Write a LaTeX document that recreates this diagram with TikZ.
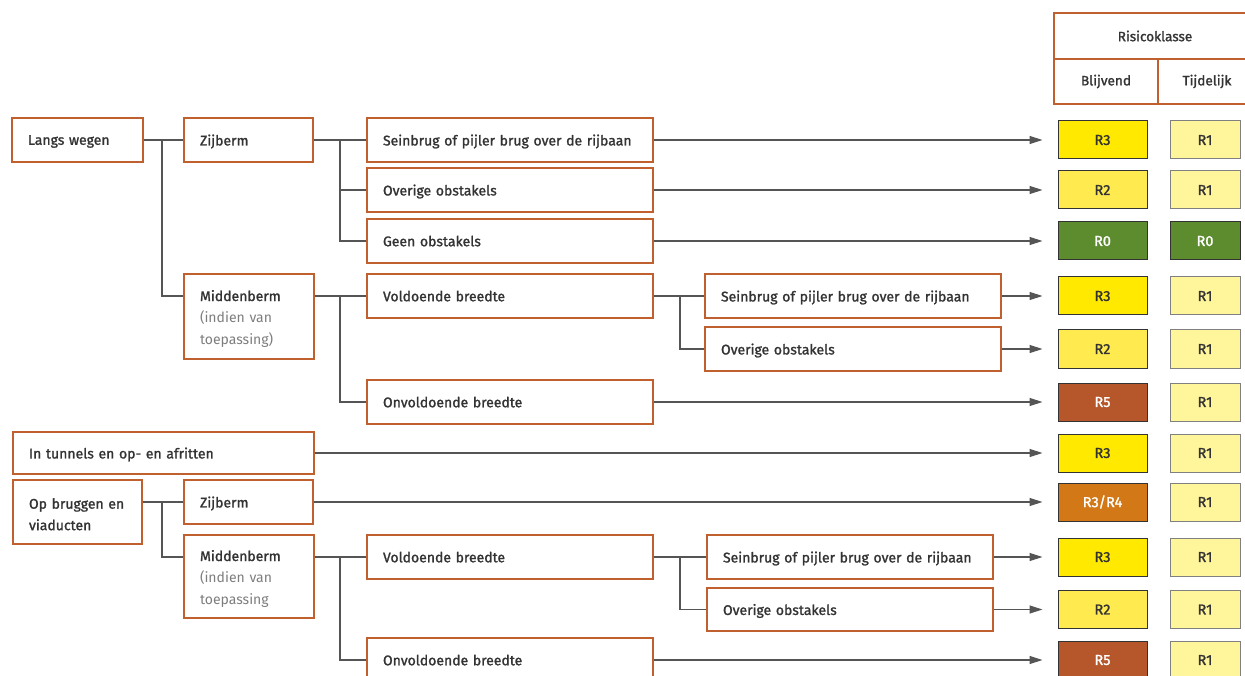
\documentclass[tikz,border=0pt]{standalone}
\usepackage{fontspec}
\setmainfont{Fira Sans}
\newfontfamily\labfont{Fira Sans}[FakeBold=1.4]
\newfontfamily\subfont{Fira Sans}
\usetikzlibrary{arrows.meta,calc}
\definecolor{frame}{RGB}{193,96,47}
\definecolor{ink}{RGB}{51,51,51}
\definecolor{soft}{RGB}{125,125,125}
\definecolor{wire}{RGB}{85,85,85}
\definecolor{rthree}{RGB}{255,233,0}
\definecolor{rtwo}{RGB}{255,234,80}
\definecolor{rone}{RGB}{255,245,155}
\definecolor{rzero}{RGB}{92,140,46}
\definecolor{rfive}{RGB}{181,87,42}
\definecolor{rfour}{RGB}{210,120,22}
\newcommand\subtxt[1]{{\subfont\color{soft}#1}}
\newcommand\topstrut{\rule{0pt}{15pt}}
\tikzset{
  multibox/.style={draw=frame, line width=1.5pt, rectangle, inner xsep=16pt, inner ysep=0pt,
    align=left, text=ink, minimum height=44pt,
    font=\labfont\fontsize{14}{21.5}\selectfont},
  box/.style={multibox, text depth=0pt},
  head/.style={draw=frame, line width=1.5pt, rectangle, inner sep=0pt, text=ink,
    font=\labfont\fontsize{13.6}{15}\selectfont},
  riskbox/.style={draw=ink, line width=1pt, rectangle, inner sep=0pt,
    minimum width=89pt, minimum height=38pt, text=ink,
    font=\labfont\fontsize{14.5}{15}\selectfont},
  tempbox/.style={riskbox, draw=gray, fill=rone, minimum width=70pt},
  wirepath/.style={draw=wire, line width=1.2pt},
  flow/.style={draw=wire, line width=1.2pt, -{Triangle[length=13pt,width=8pt]}, shorten >=15pt}
}
\begin{document}
\begin{tikzpicture}[x=1pt,y=-1pt]
\useasboundingbox (0,0) rectangle (1245,676);
\clip (0,0) rectangle (1245,676);

% header of the risk class columns
\node[head, minimum width=202pt, minimum height=46pt] (hrisk) at (1155,36) {Risicoklasse};
\node[head, minimum width=104pt, minimum height=45pt] (hperm) at (1106,81.5) {Blijvend};
\node[head, minimum width=98pt, minimum height=45pt] (htemp) at (1207,81.5) {Tijdelijk};

% decision boxes: along roads
\node[box, text width=99pt] (lw) at (77.5,140) {Langs wegen};
\node[box, text width=97pt] (zb1) at (248.5,140) {Zijberm};
\node[box, text width=254pt] (s1) at (510,140) {Seinbrug of pijler brug over de rijbaan};
\node[box, text width=254pt] (o1) at (510,190) {Overige obstakels};
\node[box, text width=254pt] (g1) at (510,241) {Geen obstakels};
\node[multibox, text width=98pt, minimum height=85pt] (mb1) at (249,316.5)
  {\topstrut Middenberm\\\subtxt{(indien van}\\\subtxt{toepassing)}};
\node[box, text width=254pt] (v1) at (510,296) {Voldoende breedte};
\node[box, text width=254pt] (on1) at (510,402) {Onvoldoende breedte};
\node[box, text width=264pt] (s2) at (853,296) {Seinbrug of pijler brug over de rijbaan};
\node[box, text width=264pt] (o2) at (853,349) {Overige obstakels};

% tunnels, bridges and viaducts
\node[box, text width=269pt, minimum height=42pt] (tun) at (163.5,453) {In tunnels en op- en afritten};
\node[multibox, text width=97pt, minimum height=64pt] (ob) at (77.5,512) {\topstrut Op bruggen en\\viaducten};
\node[box, text width=97pt] (zb2) at (248.5,502) {Zijberm};
\node[multibox, text width=98pt, minimum height=83pt] (mb2) at (249,576.5)
  {\topstrut Middenberm\\\subtxt{(indien van}\\\subtxt{toepassing}};
\node[box, text width=254pt] (v2) at (510,557) {Voldoende breedte};
\node[box, text width=254pt] (on2) at (510,660) {Onvoldoende breedte};
\node[box, text width=254pt] (s3) at (850,557) {Seinbrug of pijler brug over de rijbaan};
\node[box, text width=254pt, minimum height=43pt] (o3) at (850,609.5) {Overige obstakels};

% permanent risk classes
\node[riskbox, fill=rthree] (r1) at (1102.5,140) {R3};
\node[riskbox, fill=rtwo] (r2) at (1102.5,190) {R2};
\node[riskbox, fill=rzero, text=white] (r3) at (1102.5,241) {R0};
\node[riskbox, fill=rthree] (r4) at (1102.5,296) {R3};
\node[riskbox, fill=rtwo] (r5) at (1102.5,349) {R2};
\node[riskbox, fill=rfive, text=white] (r6) at (1102.5,402) {R5};
\node[riskbox, fill=rthree] (r7) at (1102.5,453) {R3};
\node[riskbox, fill=rfour, text=white] (r8) at (1102.5,502) {R3/R4};
\node[riskbox, fill=rthree] (r9) at (1102.5,557) {R3};
\node[riskbox, fill=rtwo] (r10) at (1102.5,609.5) {R2};
\node[riskbox, fill=rfive, text=white] (r11) at (1102.5,660) {R5};

% temporary risk classes
\node[tempbox] (t1) at (1205,140) {R1};
\node[tempbox] (t2) at (1205,190) {R1};
\node[tempbox, fill=rzero, draw=ink, text=white] (t3) at (1205,241) {R0};
\node[tempbox] (t4) at (1205,296) {R1};
\node[tempbox] (t5) at (1205,349) {R1};
\node[tempbox] (t6) at (1205,402) {R1};
\node[tempbox] (t7) at (1205,453) {R1};
\node[tempbox] (t8) at (1205,502) {R1};
\node[tempbox] (t9) at (1205,557) {R1};
\node[tempbox] (t10) at (1205,609.5) {R1};
\node[tempbox] (t11) at (1205,660) {R1};

% branch points
\coordinate (ja) at (162,140);
\coordinate (jb) at (340,140);
\coordinate (jc) at (340,296);
\coordinate (jd) at (680,296);
\coordinate (je) at (162,502);
\coordinate (jf) at (340,557);
\coordinate (jg) at (680,557);

% tree connectors
\draw[wirepath] (lw.east) -- (zb1.west);
\draw[wirepath] (ja) |- (mb1.west |- v1.west);
\draw[wirepath] (zb1.east) -- (s1.west);
\draw[wirepath] (jb) |- (o1.west);
\draw[wirepath] (jb) |- (g1.west);
\draw[wirepath] (mb1.east |- v1.west) -- (v1.west);
\draw[wirepath] (jc) |- (on1.west);
\draw[wirepath] (v1.east) -- (s2.west);
\draw[wirepath] (jd) |- (o2.west);

\draw[wirepath] (ob.east |- zb2.west) -- (zb2.west);
\draw[wirepath] (je) |- (mb2.west |- v2.west);
\draw[wirepath] (mb2.east |- v2.west) -- (v2.west);
\draw[wirepath] (jf) |- (on2.west);
\draw[wirepath] (v2.east) -- (s3.west);
\draw[wirepath] (jg) |- (o3.west);

% arrows to the risk classes
\draw[flow] (s1.east) -- (r1.west);
\draw[flow] (o1.east) -- (r2.west);
\draw[flow] (g1.east) -- (r3.west);
\draw[flow] (s2.east) -- (r4.west);
\draw[flow] (o2.east) -- (r5.west);
\draw[flow] (on1.east) -- (r6.west);
\draw[flow] (tun.east) -- (r7.west);
\draw[flow] (zb2.east) -- (r8.west);
\draw[flow] (s3.east) -- (r9.west);
\draw[flow] (o3.east) -- (r10.west);
\draw[flow] (on2.east) -- (r11.west);
\end{tikzpicture}
\end{document}
